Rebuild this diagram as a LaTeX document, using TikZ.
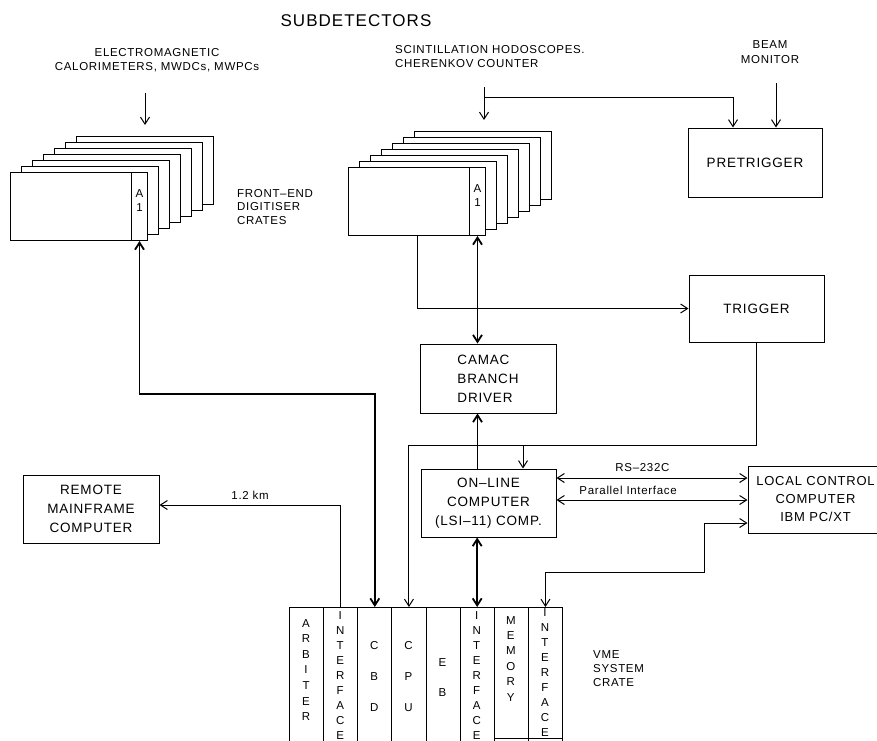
\documentclass[tikz,border=0pt]{standalone}
\usepackage{fontspec}
\setmainfont{Liberation Sans}[LetterSpace=6]
\usetikzlibrary{arrows.meta,positioning,calc}

\newcommand{\titlefont}{\fontsize{17}{20}\selectfont}
\newcommand{\boxfont}{\fontsize{13.5}{19}\selectfont}
\newcommand{\lblfont}{\fontsize{11.5}{13.5}\selectfont}

\tikzset{
  wire/.style={line width=1pt},
  bus/.style={line width=1.8pt},
  unit/.style={draw, line width=1pt, inner sep=0pt, font=\boxfont, align=center},
  crate/.style={draw, line width=1pt, fill=white, minimum width=137pt,
    minimum height=68pt, inner sep=0pt, anchor=north west},
  aslot/.style={draw, line width=1pt, anchor=north east, minimum width=16pt,
    minimum height=68pt, inner sep=0pt},
  vmeslot/.style={draw, line width=1pt, minimum width=34.125pt,
    minimum height=150pt, inner sep=0pt, anchor=north west},
  lbl/.style={font=\lblfont, inner sep=0pt},
}

\begin{document}
\begin{tikzpicture}[x=1pt,y=-1pt,>={Straight Barb[length=7pt,width=9pt]}]
  \useasboundingbox (0,0) rectangle (877,740);
  \clip (0,0) rectangle (877,740);

  % labels
  \node[font=\titlefont, inner sep=0pt] (title) at (356,21) {SUBDETECTORS};
  \node[lbl, align=center] (emlbl) at (157,60) {ELECTROMAGNETIC\\CALORIMETERS, MWDCs, MWPCs};
  \node[lbl, align=left, anchor=west] (scilbl) at (395,56.5) {SCINTILLATION HODOSCOPES.\\CHERENKOV COUNTER};
  \node[lbl, align=center, font=\fontsize{11.5}{15}\selectfont] (beamlbl) at (770,52.5) {BEAM\\MONITOR};
  \node[lbl, align=left, anchor=west] (felbl) at (237,207) {FRONT–END\\DIGITISER\\CRATES};
  \node[lbl, align=left, anchor=west, font=\fontsize{11.5}{14}\selectfont] (vmelbl) at (593,669) {VME\\SYSTEM\\CRATE};

  % front-end crates
  \foreach \k in {6,5,...,1}
    \node[crate] (em\k) at ({10+11*\k},{172-6*\k}) {};
  \node[crate] (em0) at (10,172) {};
  \node[aslot] (emA) at (em0.north east) {};
  \node[lbl, align=center, yshift=6pt] (emAt) at (emA.center) {A\\1};

  \foreach \k in {6,5,...,1}
    \node[crate] (sc\k) at ({348+11*\k},{167-6*\k}) {};
  \node[crate] (sc0) at (348,167) {};
  \node[aslot] (scA) at (sc0.north east) {};
  \node[lbl, align=center, yshift=6pt] (scAt) at (scA.center) {A\\1};

  % boxes
  \node[unit, minimum width=134pt, minimum height=69pt] (pretrig) at (755,162.5) {PRETRIGGER};
  \node[unit, minimum width=135pt, minimum height=67pt] (trig) at (756.5,308.5) {TRIGGER};
  \node[unit, minimum width=136pt, minimum height=69pt, align=left] (camac) at (488,378.5) {CAMAC\\BRANCH\\DRIVER};
  \node[unit, minimum width=135pt, minimum height=68pt] (online) at (488.5,503) {ON–LINE\\COMPUTER\\(LSI–11) COMP.};
  \node[unit, minimum width=135pt, minimum height=67pt, font=\fontsize{13}{18}\selectfont] (local) at (815.5,499.5) {LOCAL CONTROL\\COMPUTER\\IBM PC/XT};
  \node[unit, minimum width=136pt, minimum height=68pt] (remote) at (91,509) {REMOTE\\MAINFRAME\\COMPUTER};

  % VME crate
  \foreach \nm/\txt/\ty/\sk [count=\i from 0] in {
      arb/{A\\R\\B\\I\\T\\E\\R}/623/15.6,
      if1/{I\\N\\T\\E\\R\\F\\A\\C\\E}/615/15,
      cbd/{C\\B\\D}/645/31,
      cpu/{C\\P\\U}/645/31,
      eb/{E\\B}/662/30,
      if2/{I\\N\\T\\E\\R\\F\\A\\C\\E}/615/15,
      mem/{M\\E\\M\\O\\R\\Y}/620/15.4,
      if3/{I\\N\\T\\E\\R\\F\\A\\C\\E}/612/15} {
    \node[vmeslot] (\nm) at ({289+34.125*\i},607) {};
    \node[font=\fontsize{11.5}{\sk}\selectfont, align=center, inner sep=0pt,
      anchor=north, yshift=4pt] (\nm t) at ({306.06+34.125*\i},\ty) {\txt};
  }
  \draw[wire] (mem.west |- 0,738) -- (if3.east |- 0,738);

  % detector inputs
  \coordinate (emsrc) at (145,93);
  \coordinate (scsrc) at (484,87);
  \coordinate (beamsrc) at (776,83);
  \draw[wire,->,shorten >=11pt] (emsrc) -- (emsrc |- em6.north);
  \draw[wire,->,shorten >=11pt] (scsrc) -- (scsrc |- sc6.north);
  \draw[wire,->] (scsrc |- 0,97) -| ([xshift=-22pt]pretrig.north);
  \draw[wire,->] (beamsrc) -- (beamsrc |- pretrig.north);

  % data paths
  \draw[bus,<->] (emA.south) -- (emA.south |- 0,394) -| (cbd.north);
  \draw[bus,<->] (scA.south) -- (scA.south |- camac.north);
  \draw[bus,->] (online.north -| scA.south) -- (camac.south -| scA.south);
  \draw[bus,<->] (online.south -| if2.north) -- (if2.north);

  % trigger
  \draw[wire,->] (sc0.south -| 417,0) |- (trig.west);
  \draw[wire,->] (trig.south) |- (cpu.north |- 0,445) -- (cpu.north);
  \coordinate (tap) at (523,445);
  \draw[wire,->] (tap) -- (tap |- online.north);

  % links
  \draw[wire,<->] (online.east |- 0,478) -- (local.west |- 0,478)
    node[lbl, pos=0.45, above=6pt] (rslbl) {RS–232C};
  \draw[wire,<->] (online.east |- 0,500) -- (local.west |- 0,500)
    node[lbl, pos=0.375, above=5pt] (parlbl) {Parallel Interface};
  \draw[wire,<->] (local.west |- 0,523) -- (704,523) |- (if3.north |- 0,572) -- (if3.north);
  \draw[wire,->] (if1.north) |- (remote.east |- 0,505)
    node[lbl, pos=0.75, above=5pt] (kmlbl) {1.2 km};
\end{tikzpicture}
\end{document}
